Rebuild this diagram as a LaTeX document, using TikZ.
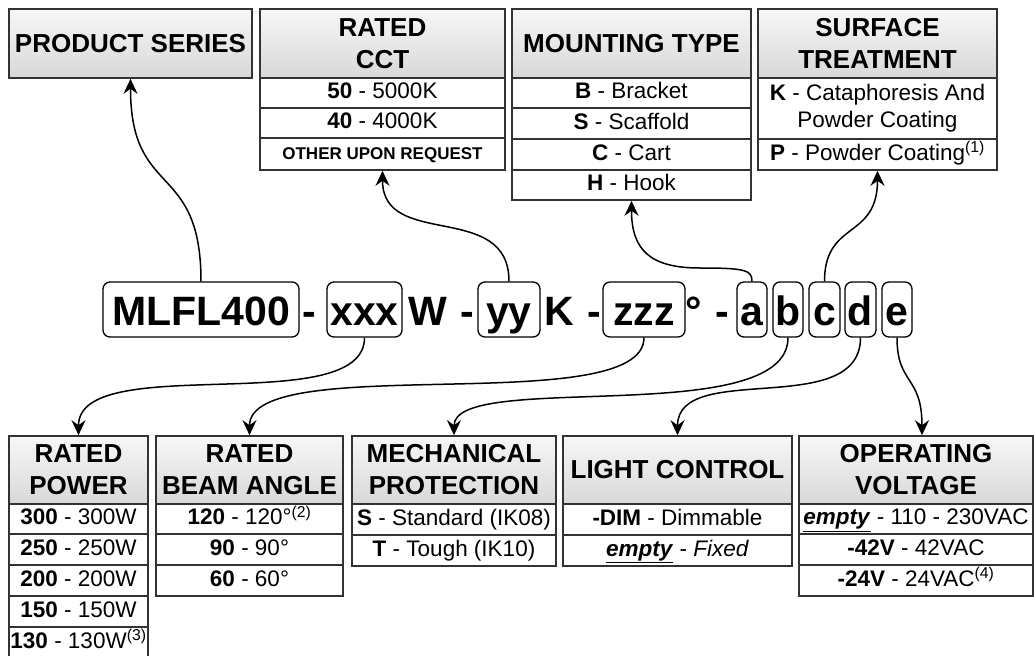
\documentclass[tikz,border=0pt]{standalone}
\usepackage{fontspec}
\setmainfont{Liberation Sans}
\usetikzlibrary{arrows.meta}
\definecolor{bc}{HTML}{333333}
\definecolor{htop}{HTML}{F7F7F7}
\definecolor{hbot}{HTML}{D8D8D8}
\begin{document}
\begin{tikzpicture}[x=1pt,y=-1pt,
 hdr/.style={draw=bc, line width=1.6pt, top color=htop, bottom color=hbot, font=\bfseries\fontsize{26}{32}\selectfont, align=center, inner sep=0pt},
 rowb/.style={draw=bc, line width=1.6pt, fill=white, font=\fontsize{22.5}{27}\selectfont, align=center, inner sep=0pt},
 row/.style={rowb, text height=16pt, text depth=4.5pt},
 code/.style={draw=black, line width=1.3pt, rounded corners=7pt, font=\bfseries\fontsize{41}{41}\selectfont, inner sep=0pt, text height=35pt, text depth=4pt, minimum height=55pt},
 ctxt/.style={font=\bfseries\fontsize{41}{41}\selectfont, inner sep=0pt, text height=35pt, text depth=4pt},
 arr/.style={line width=1.5pt, -{Stealth[length=15pt,width=14pt,inset=5pt]}}]
\useasboundingbox (0,0) rectangle (1034,656);
\fill[white] (0,0) rectangle (1034,656);
% ---------- top boxes ----------
\node[hdr, minimum width=243pt, minimum height=69pt] (ps) at (130.5,43.5) {PRODUCT SERIES};
\node[hdr, minimum width=245pt, minimum height=69pt] (ccth) at (382.5,43.5) {RATED\\CCT};
\node[row, minimum width=245pt, minimum height=30pt] (cct1) at (382.5,93) {\textbf{50} - 5000K};
\node[row, minimum width=245pt, minimum height=30pt] (cct2) at (382.5,123) {\textbf{40} - 4000K};
\node[row, minimum width=245pt, minimum height=32pt, font=\bfseries\fontsize{17}{20}\selectfont] (cct3) at (382.5,154) {OTHER UPON REQUEST};
\node[hdr, minimum width=239pt, minimum height=69pt] (mth) at (631.5,43.5) {MOUNTING TYPE};
\node[row, minimum width=239pt, minimum height=30pt] (mt1) at (631.5,93) {\textbf{B} - Bracket};
\node[row, minimum width=239pt, minimum height=31pt] (mt2) at (631.5,123.5) {\textbf{S} - Scaffold};
\node[row, minimum width=239pt, minimum height=31pt] (mt3) at (631.5,154.5) {\textbf{C} - Cart};
\node[row, minimum width=239pt, minimum height=30pt] (mt4) at (631.5,185) {\textbf{H} - Hook};
\node[hdr, minimum width=239pt, minimum height=69pt] (sth) at (877.5,43.5) {SURFACE\\TREATMENT};
\node[rowb, minimum width=239pt, minimum height=61pt] (st1) at (877.5,108.5) {\textbf{K} - Cataphoresis And\\Powder Coating};
\node[row, minimum width=239pt, minimum height=31pt] (st2) at (877.5,154.5) {\textbf{P} - Powder Coating\textsuperscript{(1)}};
% ---------- bottom boxes ----------
\node[hdr, minimum width=139pt, minimum height=68pt] (pwh) at (78.5,470) {RATED\\POWER};
\node[row, minimum width=139pt, minimum height=30pt] (pw1) at (78.5,519) {\textbf{300} - 300W};
\node[row, minimum width=139pt, minimum height=31pt] (pw2) at (78.5,549.5) {\textbf{250} - 250W};
\node[row, minimum width=139pt, minimum height=31pt] (pw3) at (78.5,580.5) {\textbf{200} - 200W};
\node[row, minimum width=139pt, minimum height=31pt] (pw4) at (78.5,611.5) {\textbf{150} - 150W};
\node[row, minimum width=139pt, minimum height=31pt] (pw5) at (78.5,642.5) {\textbf{130} - 130W\textsuperscript{(3)}};
\node[hdr, minimum width=187pt, minimum height=68pt] (bmh) at (249.5,470) {RATED\\BEAM ANGLE};
\node[row, minimum width=187pt, minimum height=30pt] (bm1) at (249.5,519) {\textbf{120} - 120°\textsuperscript{(2)}};
\node[row, minimum width=187pt, minimum height=31pt] (bm2) at (249.5,549.5) {\textbf{90} - 90°};
\node[row, minimum width=187pt, minimum height=31pt] (bm3) at (249.5,580.5) {\textbf{60} - 60°};
\node[hdr, minimum width=204pt, minimum height=68pt] (mch) at (454,470) {MECHANICAL\\PROTECTION};
\node[row, minimum width=204pt, minimum height=31pt] (mc1) at (454,519.5) {\textbf{S} - Standard (IK08)};
\node[row, minimum width=204pt, minimum height=31pt] (mc2) at (454,550.5) {\textbf{T} - Tough (IK10)};
\node[hdr, minimum width=229pt, minimum height=68pt] (lch) at (677.5,470) {LIGHT CONTROL};
\node[row, minimum width=229pt, minimum height=31pt] (lc1) at (677.5,519.5) {\textbf{-DIM} - Dimmable};
\node[row, minimum width=229pt, minimum height=31pt] (lc2) at (677.5,550.5) {\underline{\textbf{\textit{empty}}} - \textit{Fixed}};
\node[hdr, minimum width=234pt, minimum height=68pt] (oph) at (916,470) {OPERATING\\VOLTAGE};
\node[row, minimum width=234pt, minimum height=30pt] (op1) at (916,519) {\underline{\textbf{\textit{empty}}} - 110 - 230VAC};
\node[row, minimum width=234pt, minimum height=31pt] (op2) at (916,549.5) {\textbf{-42V} - 42VAC};
\node[row, minimum width=234pt, minimum height=31pt] (op3) at (916,580.5) {\textbf{-24V} - 24VAC\textsuperscript{(4)}};
% ---------- code row ----------
\node[code, minimum width=196pt] (mlfl) at (201,309.5) {MLFL400};
\node[ctxt] (h1) at (309,309.5) {-};
\node[code, minimum width=75pt] (xxx) at (364.5,309.5) {xxx};
\node[ctxt] (w) at (427.5,309.5) {W};
\node[ctxt] (h2) at (467.5,309.5) {-};
\node[code, minimum width=62pt] (yy) at (509,309.5) {yy};
\node[ctxt] (k) at (559,309.5) {K};
\node[ctxt] (h3) at (594,309.5) {-};
\node[code, minimum width=82pt] (zzz) at (644,309.5) {zzz};
\node[ctxt] (deg) at (693.5,309.5) {°};
\node[ctxt] (h4) at (722.5,309.5) {-};
\node[code, minimum width=30pt] (a) at (752,309.5) {a};
\node[code, minimum width=30pt] (b) at (788,309.5) {b};
\node[code, minimum width=31pt] (c) at (824.5,309.5) {c};
\node[code, minimum width=31pt] (d) at (860.5,309.5) {d};
\node[code, minimum width=30pt] (e) at (897,309.5) {e};
% ---------- connectors ----------
\draw[arr] (mlfl.north) .. controls (201,160) and (130.5,200) .. (ps.south);
\draw[arr] (yy.north) .. controls (509,200) and (382.5,250) .. (cct3.south);
\draw[arr] (a.north) .. controls (752,270) and (745,268) .. (700,268) .. controls (650,268) and (631.5,250) .. (mt4.south);
\draw[arr] (c.north) .. controls (824.5,220) and (877.5,240) .. (st2.south);
\draw[arr] (xxx.south) .. controls (364.5,420) and (78.5,350) .. (pwh.north);
\draw[arr] (zzz.south) .. controls (644,420) and (249.5,350) .. (bmh.north);
\draw[arr] (b.south) .. controls (788,430) and (454,370) .. (mch.north);
\draw[arr] (d.south) .. controls (860.5,420) and (677.5,360) .. (lch.north);
\draw[arr] (e.south) .. controls (897,385) and (922,375) .. ([xshift=6pt]oph.north);
\end{tikzpicture}
\end{document}
